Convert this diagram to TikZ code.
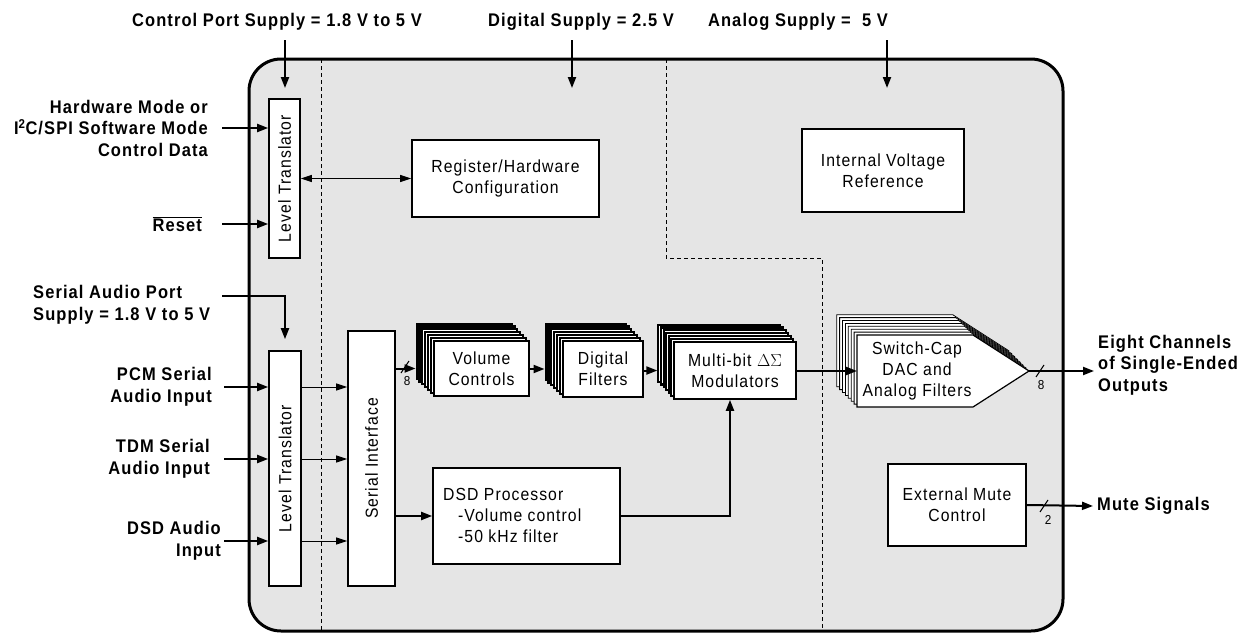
\documentclass[tikz,border=0pt]{standalone}
\usepackage{fontspec}
\setmainfont{Liberation Sans}[FakeStretch=0.9, LetterSpace=6]
\usetikzlibrary{arrows.meta}

\newcommand\boxfont{\fontsize{17.5}{21}\selectfont}
\newcommand\lblfont{\fontsize{18.3}{21.5}\selectfont\bfseries}
\newcommand\busfont{\fontsize{13}{15}\selectfont}

\tikzset{
  blk/.style={draw, line width=1.6pt, fill=white, align=center, inner sep=0pt, font=\boxfont},
  layer/.style={draw, line width=2.1pt, fill=white, inner sep=0pt},
  lbl/.style={font=\lblfont, inner sep=0pt},
  arr/.style={line width=2pt, -{Triangle[length=11pt,width=8pt]}},
  tarr/.style={line width=1pt, -{Triangle[length=11pt,width=7pt]}},
  darr/.style={line width=1pt, {Triangle[length=11pt,width=7pt]}-{Triangle[length=11pt,width=7pt]}},
  bus/.style={line width=1pt},
  part/.style={dashed, line width=0.8pt, dash pattern=on 4pt off 3pt}
}

\begin{document}
\begin{tikzpicture}[x=1pt,y=-1pt]
  %\draw [help lines] (0,0) grid (1245,632);
  \useasboundingbox (0,0) rectangle (1245,632);
  % chip outline and supply domains
  \draw[line width=3pt, fill=black!10, rounded corners=32pt] (249,59) rectangle (1063,631);
  \draw[part] (321,59) -- (321,631);
  \draw[part] (666,59) -- (666,258) -- (822,258) -- (822,631);

  % supplies
  \node[lbl] (ctlsup) at (277,22) {Control Port Supply = 1.8 V to 5 V};
  \node[lbl] (digsup) at (581,22) {Digital Supply = 2.5 V};
  \node[lbl] (anasup) at (798,22) {Analog Supply = \ 5 V};
  \coordinate (ctlin) at (285,40);
  \coordinate (digin) at (572,40);
  \coordinate (anain) at (887,40);
  \draw[arr] (ctlin) -- ++(0,48);
  \draw[arr] (digin) -- ++(0,48);
  \draw[arr] (anain) -- ++(0,48);

  % blocks
  \node[blk, minimum width=31pt, minimum height=159pt] (lvlA) at (284.5,178.5) {\rotatebox{90}{Level Translator}};
  \node[blk, minimum width=32pt, minimum height=235pt] (lvlB) at (285,468.5) {\rotatebox{90}{Level Translator}};
  \node[blk, minimum width=47pt, minimum height=255pt] (serif) at (371.5,458.5) {\rotatebox{90}{Serial Interface}};
  \node[blk, minimum width=187pt, minimum height=77pt] (regcfg) at (505.5,178.5) {Register/Hardware\\Configuration};
  \node[blk, minimum width=162pt, minimum height=83pt] (ivref) at (883,170.5) {Internal Voltage\\Reference};
  \node[blk, minimum width=187pt, minimum height=96pt] (dsd) at (526.5,516) {};
  \node[font=\boxfont, align=left, anchor=west, inner sep=0pt] (dsdtxt) at (443,515) {DSD Processor\\\hspace{15pt}-Volume control\\\hspace{15pt}-50 kHz filter};
  \node[blk, minimum width=138pt, minimum height=82pt] (extmute) at (957,505) {External Mute\\Control};

  % stacked channel blocks
  \foreach \i in {6,...,1} {
    \node[layer, minimum width=95pt, minimum height=55pt] (vol\i) at ({481.5-2.9*\i},{368.5-2.9*\i}) {};
    \node[layer, minimum width=80pt, minimum height=56pt] (filt\i) at ({603-2.9*\i},{369-2.9*\i}) {};
    \node[layer, minimum width=122pt, minimum height=57pt] (mod\i) at ({735-2.6*\i},{370.5-2.9*\i}) {};
  }
  \node[blk, minimum width=95pt, minimum height=55pt] (vol0) at (481.5,368.5) {Volume\\Controls};
  \node[blk, minimum width=80pt, minimum height=56pt] (filt0) at (603,369) {Digital\\Filters};
  \node[blk, minimum width=122pt, minimum height=57pt] (mod0) at (735,370.5) {Multi-bit $\Delta\Sigma$\\Modulators};

  \foreach \i in {7,...,1}
    \draw[line width=0.8pt, fill=white, shift={(-2.9*\i,-2.9*\i)}] (857,335) -- (973,335) -- (1029,371) -- (973,407) -- (857,407) -- cycle;
  \draw[line width=1.2pt, fill=white] (857,335) -- (973,335) -- (1029,371) -- (973,407) -- (857,407) -- cycle;
  \node[font=\boxfont, align=center] (dac) at (917,371) {Switch-Cap\\DAC and\\Analog Filters};
  \coordinate (dacin) at (857,371);
  \coordinate (dactip) at (1029,371);

  % control inputs
  \node[lbl, anchor=east, align=right] (hwlbl) at (208,128) {Hardware Mode or\\I\textsuperscript{2}C/SPI Software Mode\\Control Data};
  \node[lbl, anchor=east] (rstlbl) at (202,224) {$\overline{\hbox{\lblfont Reset}}$};
  \draw[arr] ([xshift=14pt]hwlbl.east) -- (lvlA.west |- hwlbl.east);
  \draw[arr] ([xshift=20pt]rstlbl.east) -- (lvlA.west |- rstlbl.east);
  \draw[darr] (lvlA.east |- regcfg.west) -- (regcfg.west);

  % audio inputs
  \node[lbl, anchor=west, align=left] (saplbl) at (33,305) {Serial Audio Port\\Supply = 1.8 V to 5 V};
  \coordinate (sapin) at (222,296);
  \draw[arr] (sapin) -| ([yshift=11pt]lvlB.north);
  \node[lbl, anchor=east, align=right] (pcmlbl) at (212,387) {PCM Serial\\Audio Input};
  \node[lbl, anchor=east, align=right] (tdmlbl) at (210,459) {TDM Serial\\Audio Input};
  \node[lbl, anchor=east, align=right] (dsdlbl) at (221,541) {DSD Audio\\Input};
  \draw[arr] ([xshift=12pt]pcmlbl.east) -- (lvlB.west |- pcmlbl.east);
  \draw[arr] ([xshift=14pt]tdmlbl.east) -- (lvlB.west |- tdmlbl.east);
  \draw[arr] ([xshift=3pt]dsdlbl.east) -- (lvlB.west |- dsdlbl.east);
  \draw[tarr] (lvlB.east |- pcmlbl.east) -- (serif.west |- pcmlbl.east);
  \draw[tarr] (lvlB.east |- tdmlbl.east) -- (serif.west |- tdmlbl.east);
  \draw[tarr] (lvlB.east |- dsdlbl.east) -- (serif.west |- dsdlbl.east);

  % signal chain
  \draw[arr] (serif.east |- vol0.west) -- (vol6.west |- vol0.west);
  \draw[bus] (401,373) -- (409,361);
  \node[font=\busfont] (n8a) at (407,381) {8};
  \draw[arr] (vol0.east |- filt0.west) -- (filt6.west |- filt0.west);
  \draw[arr] (filt0.east |- mod0.west) -- (mod6.west |- mod0.west);
  \draw[arr] (mod0.east |- dacin) -- (dacin);
  \draw[arr] (serif.east |- dsd.west) -- (dsd.west);
  \draw[arr] (dsd.east) -| ([xshift=-5pt]mod0.south);

  % outputs
  \node[lbl, anchor=west, align=left] (outlbl) at (1098,365) {Eight Channels\\of Single-Ended\\Outputs};
  \node[lbl, anchor=west] (mutelbl) at (1097,506) {Mute Signals};
  \draw[arr] (dactip) -- ([xshift=-4pt]outlbl.west |- dactip);
  \draw[bus] (1036,377) -- (1044,365);
  \node[font=\busfont] (n8b) at (1041,385) {8};
  \draw[arr] (extmute.east) -- ([xshift=-4pt]mutelbl.west);
  \draw[bus] (1040,512) -- (1048,500);
  \node[font=\busfont] (n2) at (1048,520) {2};
\end{tikzpicture}
\end{document}
